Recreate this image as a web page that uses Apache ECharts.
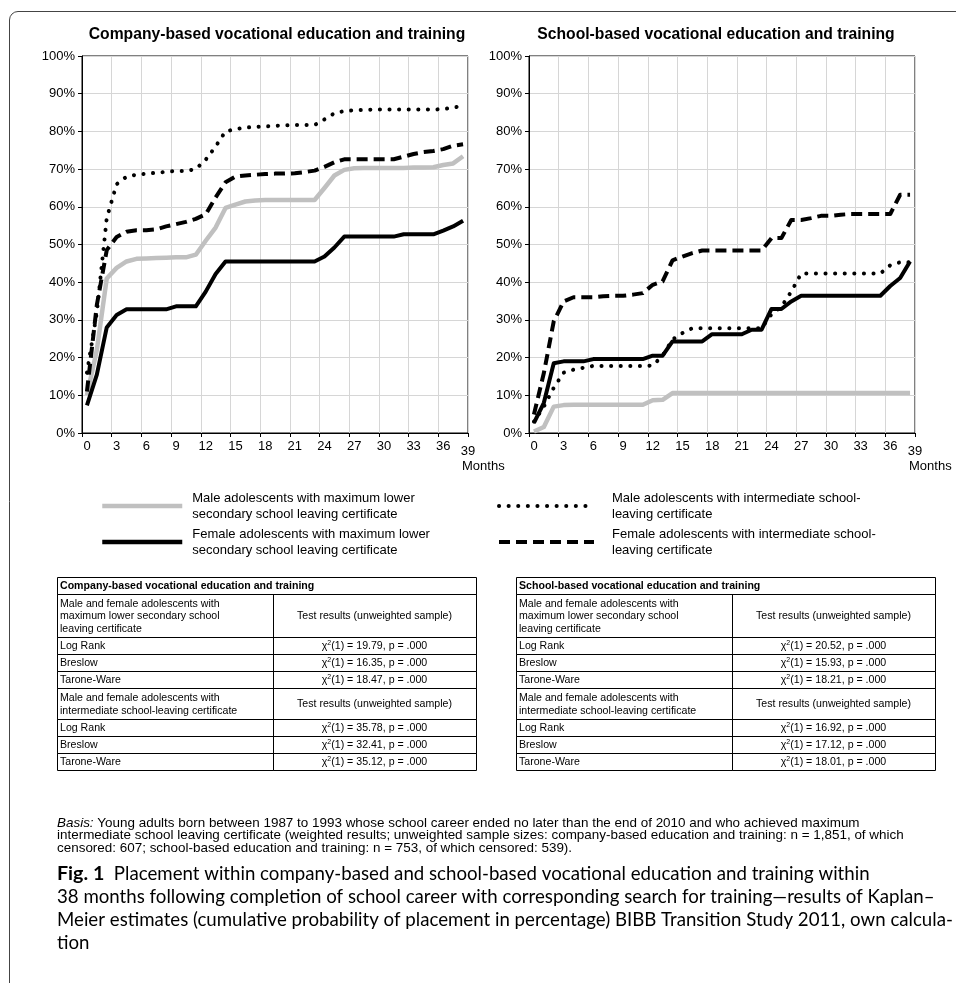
<!DOCTYPE html>
<html><head><meta charset="utf-8">
<script src="https://cdn.jsdelivr.net/npm/echarts@6/dist/echarts.min.js"></script>
<style>html,body{margin:0;padding:0;background:#fff}#c{width:956px;height:983px}</style>
</head><body><div id="c"></div>
<script>
// ---------------- data ----------------
const months = [0.5,1.5,2.5,3.5,4.5,5.5,6.5,7.5,8.5,9.5,10.5,11.5,12.5,13.5,14.5,15.5,16.5,17.5,18.5,19.5,
  20.5,21.5,22.5,23.5,24.5,25.5,26.5,27.5,28.5,29.5,30.5,31.5,32.5,33.5,34.5,35.5,36.5,37.5,38.5];

const panelTitles = ['Company-based vocational education and training', 'School-based vocational education and training'];
const seriesNames = [
  'Male adolescents with maximum lower\nsecondary school leaving certificate',
  'Female adolescents with maximum lower\nsecondary school leaving certificate',
  'Male adolescents with intermediate school-\nleaving certificate',
  'Female adolescents with intermediate school-\nleaving certificate'
];

// Company-based
const companyMaleLower = [10,22,41,43.8,45.5,46.2,46.3,46.4,46.5,46.6,46.6,47.3,51,54.5,59.7,60.6,61.4,61.7,61.8,61.8,
  61.8,61.8,61.8,61.8,65,68.3,69.8,70.2,70.3,70.3,70.3,70.3,70.3,70.4,70.4,70.5,71.1,71.5,73.4];
const companyFemaleLower = [7.3,15.5,28,31.3,32.8,32.8,32.8,32.8,32.8,33.6,33.6,33.6,37.5,42.2,45.5,45.5,45.5,45.5,45.5,45.5,
  45.5,45.5,45.5,45.5,46.8,49.2,52.1,52.1,52.1,52.1,52.1,52.1,52.7,52.7,52.7,52.7,53.7,54.8,56.3];
const companyMaleInter = [16,32,57,66,68,68.5,68.8,69,69.3,69.5,69.5,70,72.5,76,80,80.6,81,81.2,81.3,81.5,
  81.6,81.7,81.7,81.7,83.2,84.8,85.4,85.6,85.7,85.8,85.8,85.8,85.8,85.8,85.8,85.8,85.9,86.3,86.8];
const companyFemaleInter = [11,34,48.5,52,53.4,53.8,53.8,54,54.8,55.4,56,56.8,58,62.5,66.5,68,68.3,68.5,68.7,68.8,
  68.8,68.9,69.2,69.6,70.6,71.8,72.6,72.6,72.6,72.6,72.6,72.6,73.3,74,74.5,74.8,75.3,76.2,76.6];

// School-based
const schoolMaleLower = [0.4,1.6,7,7.4,7.5,7.5,7.5,7.5,7.5,7.5,7.5,7.5,8.7,8.8,10.6,10.6,10.6,10.6,10.6,10.6,
  10.6,10.6,10.6,10.6,10.6,10.6,10.6,10.6,10.6,10.6,10.6,10.6,10.6,10.6,10.6,10.6,10.6,10.6,10.6];
const schoolFemaleLower = [2.7,8,18.5,19,19,19,19.6,19.6,19.6,19.6,19.6,19.6,20.5,20.5,24.3,24.3,24.3,24.3,26.2,26.2,
  26.2,26.2,27.4,27.4,32.9,32.9,34.9,36.4,36.4,36.4,36.4,36.4,36.4,36.4,36.4,36.4,39,41.1,45.5];
const schoolMaleInter = [3,7,12,16,16.8,17.3,17.8,17.8,17.8,17.8,17.8,17.8,17.9,20.5,24.8,26.5,27.8,27.8,27.8,27.8,
  27.8,27.8,27.8,27.8,31.5,33.5,37.5,42.3,42.3,42.3,42.3,42.3,42.3,42.3,42.3,42.3,44.5,45.3,45.3];
const schoolFemaleInter = [4.9,15.9,29.6,34.9,36,36,36,36.3,36.4,36.4,36.7,37.1,39.3,40.2,45.8,46.8,47.7,48.4,48.4,48.4,
  48.4,48.4,48.4,48.4,51.7,51.7,56.5,56.5,57,57.6,57.6,57.9,58.1,58.1,58.1,58.1,58.1,63.2,63.2];

// Test tables
const groupLabels = ['Male and female adolescents with\nmaximum lower secondary school\nleaving certificate',
                     'Male and female adolescents with\nintermediate school-leaving certificate'];
const resultsHeader = 'Test results (unweighted sample)';
const testNames = ['Log Rank', 'Breslow', 'Tarone-Ware'];
const chiCompany = [[19.79, 16.35, 18.47], [35.78, 32.41, 35.12]];
const chiSchool = [[20.52, 15.93, 18.21], [16.92, 17.12, 18.01]];
const pValues = ['.000', '.000', '.000'];

const basisLines = [
  'Young adults born between 1987 to 1993 whose school career ended no later than the end of 2010 and who achieved maximum',
  'intermediate school leaving certificate (weighted results; unweighted sample sizes: company-based education and training: n = 1,851, of which',
  'censored: 607; school-based education and training: n = 753, of which censored: 539).'
];
const captionLabel = 'Fig. 1';
const captionLines = [
  'Placement within company-based and school-based vocational education and training within',
  '38 months following completion of school career with corresponding search for training\u2014results of Kaplan\u2013',
  'Meier estimates (cumulative probability of placement in percentage) BIBB Transition Study 2011, own calcula-',
  'tion'
];

// ---------------- layout / style ----------------
const FONT = '"Liberation Sans", Arial, Helvetica, sans-serif';
const CAPFONT = 'Lato, "Noto Sans", sans-serif';
const GRID_TOP = 56, GRID_H = 377, GRID_W = 386;
const GRID_LEFT = [82, 529];
const TITLE_CX = [277, 716];
const GRIDCOLOR = '#d6d6d6';

const ctx = document.createElement('canvas').getContext('2d');
function fit(text, family, weight, target, base) {
  ctx.font = weight + ' ' + base + 'px ' + family;
  return base * target / ctx.measureText(text).width;
}

const styles = [
  {color: '#c0c0c0', width: 4.5, type: 'solid', join: 'round'},
  {color: '#000000', width: 4, type: 'solid', join: 'round'},
  {color: '#000000', width: 4, type: [0.1, 9.5], cap: 'round', join: 'round'},
  {color: '#000000', width: 4, type: [11, 6], cap: 'butt', join: 'round'}
];

function xAx(gi) {
  return {
    type: 'value', gridIndex: gi, min: 0, max: 39, interval: 3,
    axisLine: {show: true, onZero: false, lineStyle: {color: '#000', width: 1}},
    axisTick: {show: true, length: 4, lineStyle: {color: '#000'}},
    splitLine: {show: true, lineStyle: {color: GRIDCOLOR, width: 1}},
    axisLabel: {
      color: '#000', fontSize: 13, fontFamily: FONT, margin: 7, padding: [0, 0, 0, 10],
      formatter: v => v === 39 ? '{e|39}' : String(v),
      rich: {e: {fontSize: 13, fontFamily: FONT, color: '#000', padding: [5, 10, 0, 0]}}
    }
  };
}
function yAx(gi) {
  return {
    type: 'value', gridIndex: gi, min: 0, max: 100, interval: 10,
    axisLine: {show: true, onZero: false, lineStyle: {color: '#000', width: 1}},
    axisTick: {show: true, length: 4, lineStyle: {color: '#000'}},
    splitLine: {show: true, lineStyle: {color: GRIDCOLOR, width: 1}},
    axisLabel: {color: '#000', fontSize: 13, fontFamily: FONT, margin: 7, formatter: '{value}%'}
  };
}
function ser(k, gi, vals) {
  return {
    name: seriesNames[k], type: 'line', xAxisIndex: gi, yAxisIndex: gi,
    data: months.map((m, i) => [m, vals[i]]),
    symbol: 'none', showSymbol: false, silent: true,
    itemStyle: {color: styles[k].color},
    lineStyle: styles[k], z: 2 + k
  };
}

const series = [
  ser(0, 0, companyMaleLower), ser(1, 0, companyFemaleLower), ser(3, 0, companyFemaleInter), ser(2, 0, companyMaleInter),
  ser(0, 1, schoolMaleLower), ser(1, 1, schoolFemaleLower), ser(3, 1, schoolFemaleInter), ser(2, 1, schoolMaleInter)
];

// ---------------- graphics (frame, titles, tables, notes) ----------------
const G = [];
function txt(x, y, text, o) {
  o = o || {};
  return {type: 'text', x: x, y: y, silent: true, z: 10, style: Object.assign({
    text: text, fill: '#000', fontSize: 13, fontFamily: FONT,
    align: 'left', verticalAlign: 'middle'}, o)};
}
// frame
G.push({type: 'line', silent: true, shape: {x1: 9.5, y1: 20, x2: 9.5, y2: 983}, style: {stroke: '#444', lineWidth: 1}});
G.push({type: 'arc', silent: true, shape: {cx: 18, cy: 20, r: 8.5, startAngle: Math.PI, endAngle: Math.PI * 1.5}, style: {stroke: '#444', lineWidth: 1, fill: null}});
G.push({type: 'line', silent: true, shape: {x1: 18, y1: 11.5, x2: 956, y2: 11.5}, style: {stroke: '#444', lineWidth: 1}});
// panel titles
panelTitles.forEach((t, i) => G.push(txt(TITLE_CX[i], 35, t, {align: 'center', fontSize: 15.7, fontWeight: 'bold'})));
// "Months"
GRID_LEFT.forEach(l => G.push(txt(l + GRID_W - 6, 466, 'Months', {fontSize: 13})));

// tables
const TABLE_LEFT = [57, 516], TABLE_W = 419, COL1_W = 216, TABLE_TOP = 577;
const ROW_H = [17, 43, 17, 17, 17, 31, 17, 17, 17];
const TFS = 10.6;
function cell(x, y, w, h) {
  return {type: 'rect', silent: true, z: 9, shape: {x: Math.round(x) + 0.5, y: Math.round(y) + 0.5, width: w, height: h},
    style: {fill: null, stroke: '#000', lineWidth: 1}};
}
function chiText(v, p) {
  return '{a|\u03c7}{s|2}{a|(1) = ' + v.toFixed(2) + ', p = ' + p + '}';
}
function addTable(ti, title, chi) {
  const x0 = TABLE_LEFT[ti];
  const rows = [{header: title}, {left: groupLabels[0], right: resultsHeader}];
  testNames.forEach((t, i) => rows.push({left: t, chi: chi[0][i], p: pValues[i]}));
  rows.push({left: groupLabels[1], right: resultsHeader});
  testNames.forEach((t, i) => rows.push({left: t, chi: chi[1][i], p: pValues[i]}));
  let y = TABLE_TOP;
  rows.forEach((r, ri) => {
    const h = ROW_H[ri];
    const cy = y + h / 2 + 1;
    if (r.header) {
      G.push(cell(x0, y, TABLE_W, h));
      G.push(txt(x0 + 3, cy, r.header, {fontSize: TFS, fontWeight: 'bold'}));
    } else {
      G.push(cell(x0, y, COL1_W, h));
      G.push(cell(x0 + COL1_W, y, TABLE_W - COL1_W, h));
      G.push(txt(x0 + 3, cy, r.left, {fontSize: TFS, lineHeight: 12.5}));
      const cx = x0 + COL1_W + (TABLE_W - COL1_W) / 2;
      if (r.right) {
        G.push(txt(cx, cy, r.right, {fontSize: TFS, align: 'center'}));
      } else {
        G.push(txt(cx, cy, chiText(r.chi, r.p), {align: 'center', rich: {
          a: {fontSize: TFS, fontFamily: FONT, fill: '#000', lineHeight: 14},
          s: {fontSize: 7, fontFamily: FONT, fill: '#000', verticalAlign: 'top', lineHeight: 8}
        }}));
      }
    }
    y += h;
  });
}
addTable(0, panelTitles[0], chiCompany);
addTable(1, panelTitles[1], chiSchool);

// basis note
const basisSize = fit(basisLines[1], FONT, 'normal', 848, 12);
const basisY = [823, 835.5, 848];
G.push(txt(57, basisY[0], '{i|Basis:} ' + basisLines[0], {fontSize: basisSize, rich: {
  i: {fontStyle: 'italic', fontSize: basisSize, fontFamily: FONT, fill: '#000'}}}));
G.push(txt(57, basisY[1], basisLines[1], {fontSize: basisSize}));
G.push(txt(57, basisY[2], basisLines[2], {fontSize: basisSize}));

// caption
const capSize = fit(captionLines[1], CAPFONT, 'normal', 878, 16);
const capY = [874, 897, 920, 943];
G.push(txt(57, capY[0], '{b|' + captionLabel + '}  ' + captionLines[0], {fontSize: capSize, fontFamily: CAPFONT, rich: {
  b: {fontWeight: 'bold', fontSize: capSize + 1, fontFamily: CAPFONT, fill: '#000'}}}));
for (let i = 1; i < captionLines.length; i++) G.push(txt(57, capY[i], captionLines[i], {fontSize: capSize, fontFamily: CAPFONT}));

// ---------------- chart ----------------
const chart = echarts.init(document.getElementById('c'), null, {renderer: 'canvas', width: 956, height: 983});
const legendBase = {
  orient: 'vertical', selectedMode: false, itemHeight: 14, itemGap: 4, padding: 0,
  textStyle: {fontSize: 13, fontFamily: FONT, color: '#000', lineHeight: 16, padding: [0, 0, 0, 5]},
  itemStyle: {opacity: 0},
  lineStyle: {width: 4.5}
};
chart.setOption({
  animation: false,
  backgroundColor: '#fff',
  grid: GRID_LEFT.map(l => ({left: l, top: GRID_TOP, width: GRID_W, height: GRID_H, show: true,
    borderColor: '#000', borderWidth: 1, backgroundColor: 'transparent', containLabel: false})),
  xAxis: [xAx(0), xAx(1)],
  yAxis: [yAx(0), yAx(1)],
  legend: [
    Object.assign({}, legendBase, {left: 100, top: 490, itemWidth: 80, data: [seriesNames[0], seriesNames[1]]}),
    Object.assign({}, legendBase, {left: 497, top: 490, itemWidth: 95, lineStyle: {width: 4},
      textStyle: Object.assign({}, legendBase.textStyle, {padding: [0, 0, 0, 13]}), data: [seriesNames[2], seriesNames[3]]})
  ],
  series: series,
  graphic: {elements: G}
});
</script>
</body></html>
